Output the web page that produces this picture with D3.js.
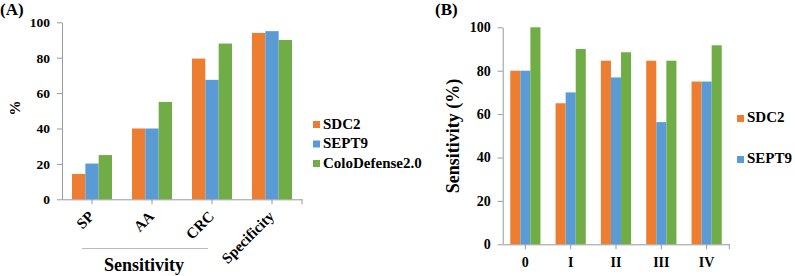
<!DOCTYPE html>
<html>
<head>
<meta charset="utf-8">
<script src="https://cdn.jsdelivr.net/npm/d3@7"></script>
<style>
    body { margin: 0; background: #fff; }
    text { font-family: "Liberation Serif", "Times New Roman", serif; font-weight: bold; fill: #000; }
    .axis path, .axis line { stroke: #999; }
</style>
</head>
<body>
<div id="chart"></div>
<script>
// data
const seriesNames = ["SDC2", "SEPT9", "ColoDefense2.0"];
const seriesColors = ["#ED7D31", "#5B9BD5", "#70AD47"];
const yTicks = [0, 20, 40, 60, 80, 100];

const panelACategories = ["SP", "AA", "CRC", "Specificity"];
const panelASDC2 = [14.3, 40, 79.5, 94];
const panelASEPT9 = [20.2, 40, 67.5, 95];
const panelAColo = [25, 55, 88, 90];

const panelBCategories = ["0", "I", "II", "III", "IV"];
const panelBSDC2 = [80, 65, 84.6, 84.6, 75];
const panelBSEPT9 = [80, 70, 76.9, 56.3, 75];
const panelBColo = [100, 90, 88.5, 84.6, 91.7];


class BarPanel {
    constructor(svg, opts) {
        this.svg = svg;
        this.opts = opts;
        this.initVis();
    }

    initVis() {
        let vis = this;
        let o = vis.opts;

        vis.g = vis.svg.append("g");

        vis.x = d3.scaleBand()
            .domain(o.categories)
            .range([o.left, o.right])
            .paddingInner(1 / 3)
            .paddingOuter(1 / 6);

        vis.xSeries = d3.scaleBand()
            .domain(seriesNames)
            .range([0, vis.x.bandwidth()]);

        vis.y = d3.scaleLinear()
            .domain([0, 100])
            .range([o.bottom, o.top]);

        // axes
        vis.g.append("g")
            .attr("class", "y-axis axis")
            .attr("transform", `translate(${o.left},0)`)
            .call(d3.axisLeft(vis.y).tickValues(yTicks).tickSize(5).tickSizeOuter(0).tickPadding(7))
            .call(g => g.selectAll("text").style("font-size", o.tickFont + "px"));

        vis.xAxisG = vis.g.append("g")
            .attr("class", "x-axis axis")
            .attr("transform", `translate(0,${o.bottom})`)
            .call(d3.axisBottom(vis.x).tickSize(5).tickSizeOuter(0).tickPadding(10));

        vis.xAxisG.append("line")
            .attr("x1", o.right).attr("x2", o.right)
            .attr("y1", 0).attr("y2", 5);

        vis.xAxisG.selectAll(".tick text")
            .style("font-size", o.catFont + "px");

        vis.updateVis();
    }

    updateVis() {
        let vis = this;
        let o = vis.opts;

        let rows = [];
        o.categories.forEach((c, i) => {
            o.values.forEach((arr, s) => {
                rows.push({cat: c, series: seriesNames[s], color: seriesColors[s], value: arr[i]});
            });
        });

        vis.g.selectAll(".bar")
            .data(rows)
            .enter()
            .append("rect")
            .attr("class", "bar")
            .attr("x", d => vis.x(d.cat) + vis.xSeries(d.series))
            .attr("width", vis.xSeries.bandwidth())
            .attr("y", d => vis.y(d.value))
            .attr("height", d => vis.y(0) - vis.y(d.value))
            .attr("fill", d => d.color);

        // bring axes over the bars
        vis.g.selectAll(".axis").raise();
    }
}

const svg = d3.select("#chart").append("svg")
    .attr("width", 795)
    .attr("height", 276);

// ---- panel A
const panelA = new BarPanel(svg, {
    categories: panelACategories,
    values: [panelASDC2, panelASEPT9, panelAColo],
    left: 62, right: 302, top: 22.3, bottom: 199.3,
    tickFont: 13.5, catFont: 15
});

// rotated category labels
panelA.xAxisG.selectAll(".tick text")
    .attr("text-anchor", "end")
    .attr("y", 0)
    .attr("dy", 0)
    .attr("transform", "translate(3,18) rotate(-45)");

svg.append("line")
    .attr("x1", 82).attr("x2", 208)
    .attr("y1", 248.5).attr("y2", 248.5)
    .attr("stroke", "#bbb");

svg.append("text")
    .attr("x", 144).attr("y", 271)
    .attr("text-anchor", "middle")
    .style("font-size", "18px")
    .text("Sensitivity");

svg.append("text")
    .attr("transform", "translate(20,108) rotate(-90)")
    .attr("text-anchor", "middle")
    .style("font-size", "15px")
    .text("%");

svg.append("text")
    .attr("x", 0).attr("y", 15)
    .style("font-size", "17px")
    .text("(A)");

let legendA = svg.append("g").attr("class", "legend");
seriesNames.forEach((s, i) => {
    legendA.append("rect")
        .attr("x", 313).attr("y", 121 + i * 19.5)
        .attr("width", 7).attr("height", 7)
        .attr("fill", seriesColors[i]);
    legendA.append("text")
        .attr("x", 323).attr("y", 128.5 + i * 19.5)
        .style("font-size", "15px")
        .text(s);
});

// ---- panel B
const panelB = new BarPanel(svg, {
    categories: panelBCategories,
    values: [panelBSDC2, panelBSEPT9, panelBColo],
    left: 502.7, right: 729.3, top: 27.3, bottom: 244.3,
    tickFont: 14, catFont: 14
});

panelB.xAxisG.selectAll(".tick text")
    .attr("dy", "0.71em")
    .attr("y", 13);

svg.append("text")
    .attr("transform", "translate(459,136) rotate(-90)")
    .attr("text-anchor", "middle")
    .style("font-size", "18px")
    .text("Sensitivity (%)");

svg.append("text")
    .attr("x", 435).attr("y", 15)
    .style("font-size", "17px")
    .text("(B)");

let legendB = svg.append("g").attr("class", "legend");
seriesNames.slice(0, 2).forEach((s, i) => {
    legendB.append("rect")
        .attr("x", 737).attr("y", 115 + i * 41)
        .attr("width", 7).attr("height", 7)
        .attr("fill", seriesColors[i]);
    legendB.append("text")
        .attr("x", 747).attr("y", 122 + i * 41)
        .style("font-size", "15px")
        .text(s);
});
</script>
</body>
</html>
